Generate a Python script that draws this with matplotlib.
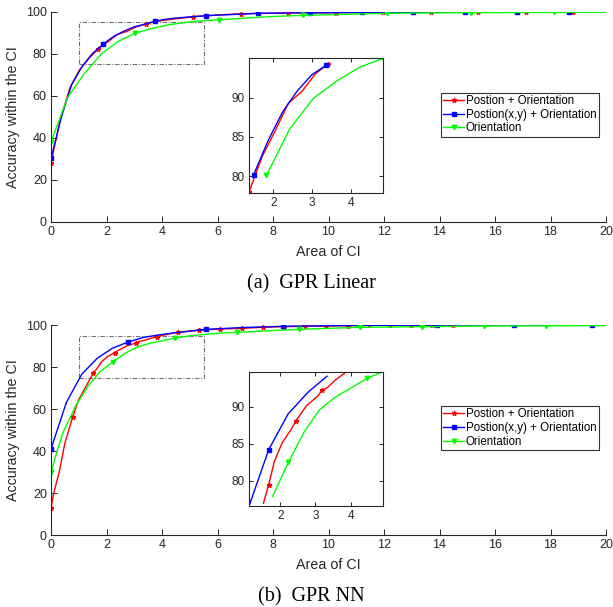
import matplotlib
matplotlib.use('Agg')
import matplotlib.pyplot as plt
from matplotlib.patches import Rectangle

plt.rcParams['font.family'] = ['Liberation Sans', 'DejaVu Sans']

# ---- GPR Linear (a) ----
lin_red_x = [0, 0.342, 0.684, 1.03, 1.37, 1.71, 2.05, 2.39, 2.74, 3.08, 3.42, 3.76, 4.10, 4.45,
             4.79, 5.13, 5.47, 5.81, 6.16, 6.50, 6.84, 8.55, 10.26, 11.97, 13.68, 15.39, 17.10, 18.81, 20.0]
lin_red_y = [28.2, 49, 64, 72.5, 78, 82.5, 85.8, 89.3, 90.8, 93.0, 94.3, 95.4, 96.1, 96.7,
             97.2, 97.8, 98.1, 98.4, 98.7, 98.9, 99.2, 99.5, 99.7, 99.8, 99.9, 100, 100, 100, 100]
lin_red_mk = [0, 5, 10, 15, 20, 21, 22, 23, 24, 25, 26, 27]
lin_red_mk_in = [4, 10]

lin_blue_x = [0, 0.373, 0.746, 1.12, 1.49, 1.87, 2.24, 2.61, 2.99, 3.36, 3.73, 4.10, 4.48, 4.85,
              5.22, 5.60, 5.97, 6.34, 6.72, 7.09, 7.46, 9.33, 11.20, 13.06, 14.93, 16.80, 18.66, 20.0]
lin_blue_y = [30.3, 50, 65.5, 74, 80.2, 84.6, 88.2, 90.8, 92.9, 94.1, 95.6, 96.5, 97.1, 97.5,
              97.9, 98.2, 98.5, 98.7, 98.9, 99.1, 99.4, 99.6, 99.8, 99.9, 100, 100, 100, 100]
lin_blue_mk = [0, 5, 10, 15, 20, 21, 22, 23, 24, 25, 26]
lin_blue_mk_in = [4, 9]

lin_green_x = [0, 0.605, 1.21, 1.82, 2.42, 3.03, 3.63, 4.24, 4.84, 5.45, 6.05, 6.66, 7.26, 7.87,
               8.47, 9.08, 12.10, 15.12, 18.14, 20.0]
lin_green_y = [38.1, 59.5, 70.8, 80.1, 86.0, 89.9, 92.1, 93.9, 95.0, 95.8, 96.3, 96.8, 97.3, 97.8,
               98.1, 98.4, 99.4, 99.7, 99.8, 99.9]
lin_green_mk = [0, 5, 10, 15, 16, 17, 18]
lin_green_mk_in = [3, 8]

# ---- GPR NN (b) ----
nn_red_x = [0, 0.1, 0.3, 0.5, 0.78, 1.0, 1.25, 1.52, 1.67, 1.83, 2.05, 2.29, 2.45, 2.74, 3.06,
            3.19, 3.35, 3.57, 3.83, 4.2, 4.59, 5.34, 6.10, 6.87, 7.63, 8.40, 9.17, 9.92, 10.69,
            11.45, 12.22, 12.97, 13.74, 14.50]
nn_red_y = [13, 20, 30.2, 43.7, 56.2, 64.5, 70.5, 77, 79.5, 82.6, 85.1, 86.8, 88.1, 90.1, 91.4,
            92.2, 92.6, 93.6, 94.5, 95.6, 96.5, 97.5, 98.1, 98.4, 98.9, 99.2, 99.4, 99.5, 99.7,
            99.8, 99.9, 99.9, 100, 100]
nn_red_mk = [0, 4, 7, 11, 14, 18, 20, 21, 22, 23, 24, 25, 26, 27, 28, 29, 30, 31, 32, 33]
nn_red_mk_in = [8, 12, 15]

nn_blue_x = [0, 0.556, 1.11, 1.67, 2.22, 2.78, 3.33, 3.89, 4.45, 5.0, 5.57, 6.9, 8.35, 11.14,
             13.92, 16.70, 19.48, 20.0]
nn_blue_y = [41, 63.2, 76.6, 84.2, 89.0, 91.9, 94.1, 95.3, 96.3, 97.1, 97.9, 98.8, 99.4, 99.8,
             100, 100, 100, 100]
nn_blue_mk = [0, 5, 10, 12, 13, 14, 15, 16]
nn_blue_mk_in = [3]

nn_green_x = [0, 0.223, 0.446, 0.89, 1.34, 1.78, 2.23, 2.68, 3.12, 3.57, 4.01, 4.46, 4.92, 5.35,
              5.80, 6.24, 6.69, 8.92, 11.15, 13.38, 15.61, 17.84, 20.0]
nn_green_y = [29.8, 40.1, 49.2, 61.5, 71, 77.9, 82.5, 86.6, 89.6, 91.3, 92.5, 93.8, 94.7, 95.3,
              95.8, 96.2, 96.5, 97.95, 98.9, 99.2, 99.5, 99.6, 99.7]
nn_green_mk = [0, 6, 11, 16, 17, 18, 19, 20, 21]
nn_green_mk_in = [6, 11]

labels = ['Postion + Orientation', 'Postion(x,y) + Orientation', 'Orientation']
colors = ['#ff0000', '#0000ff', '#00ff00']
markers = ['*', 's', 'v']
msizes = [3.5, 2.8, 3.2]
xticks = list(range(0, 21, 2))
yticks = list(range(0, 101, 20))
inset_yticks = [80, 85, 90]
inset_xticks = [2, 3, 4]
captions = ['(a)  GPR Linear', '(b)  GPR NN']
zoom_box = (1, 5.5, 75, 95)   # x0, x1, y0, y1 of the zoomed region

panels = [
    dict(series=[(lin_red_x, lin_red_y, lin_red_mk, lin_red_mk_in),
                 (lin_blue_x, lin_blue_y, lin_blue_mk, lin_blue_mk_in),
                 (lin_green_x, lin_green_y, lin_green_mk, lin_green_mk_in)],
         inset_xlim=(1.37, 4.84), inset_ylim=(77.9, 95.0),
         ax_top=12, inset_top=58.3, leg_top=92.7),
    dict(series=[(nn_red_x, nn_red_y, nn_red_mk, nn_red_mk_in),
                 (nn_blue_x, nn_blue_y, nn_blue_mk, nn_blue_mk_in),
                 (nn_green_x, nn_green_y, nn_green_mk, nn_green_mk_in)],
         inset_xlim=(1.11, 4.93), inset_ylim=(76.6, 94.7),
         ax_top=325, inset_top=371.7, leg_top=406),
]

W, H = 613, 607
fig = plt.figure(figsize=(W / 100, H / 100), dpi=100)
axcol = '#262626'
x0, x1, y0, y1 = zoom_box

for p, cap in zip(panels, captions):
    ax = fig.add_axes([51 / W, 1 - (p['ax_top'] + 210) / H, 555 / W, 210 / H])
    handles = []
    for (x, y, mk, _), c, m, ms in zip(p['series'], colors, markers, msizes):
        h, = ax.plot(x, y, color=c, lw=1.0, marker=m, ms=ms, markevery=mk)
        handles.append(h)
    ax.add_patch(Rectangle((x0, y0), x1 - x0, y1 - y0, fill=False, ls=(0, (4, 1.5, 1, 1.5)),
                           ec='#707070', lw=0.8))
    ax.set_xlim(0, 20)
    ax.set_ylim(0, 100)
    ax.set_xticks(xticks)
    ax.set_yticks(yticks)
    ax.tick_params(direction='in', length=4, width=0.7, color=axcol, labelcolor=axcol,
                   labelsize=9, pad=3)
    for s in ['top', 'right']:
        ax.spines[s].set_visible(False)
    for s in ['left', 'bottom']:
        ax.spines[s].set_color(axcol)
        ax.spines[s].set_linewidth(0.8)
    ax.set_xlabel('Area of CI', fontsize=10.3, color=axcol)
    ax.set_ylabel('Accuracy within the CI', fontsize=10.3, color=axcol)
    ax.xaxis.set_label_coords(0.5, -29.7 / 210)
    ax.yaxis.set_label_coords(-38 / 555, 0.5)
    ax.xaxis.label.set_va('center')
    ax.yaxis.label.set_va('center')

    # zoomed inset: only the points that fall inside the dashed box
    ins = fig.add_axes([249 / W, 1 - (p['inset_top'] + 134.5) / H, 134.3 / W, 134.5 / H])
    for (x, y, _, mk_in), c, m, ms in zip(p['series'], colors, markers, msizes):
        sel = [i for i in range(len(x)) if x0 <= x[i] <= x1 and y0 <= y[i] <= y1]
        xs = [x[i] for i in sel]
        ys = [y[i] for i in sel]
        mk = [sel.index(i) for i in mk_in if i in sel]
        ins.plot(xs, ys, color=c, lw=1.0, marker=m, ms=ms, markevery=mk)
    ins.set_xlim(*p['inset_xlim'])
    ins.set_ylim(*p['inset_ylim'])
    ins.set_xticks(inset_xticks)
    ins.set_yticks(inset_yticks)
    ins.tick_params(direction='in', length=3, width=0.7, color=axcol, labelcolor=axcol,
                    labelsize=8.5, top=True, right=True, pad=3)
    for s in ins.spines.values():
        s.set_color(axcol)
        s.set_linewidth(0.8)

    leg = fig.legend(handles, labels, loc='upper left',
                     bbox_to_anchor=(441 / W, 1 - p['leg_top'] / H),
                     bbox_transform=fig.transFigure, borderaxespad=0, fontsize=8.3,
                     frameon=True, fancybox=False, handlelength=1.8, handletextpad=0.15,
                     labelspacing=0.15, borderpad=0.2, markerscale=1.0)
    leg.get_frame().set_edgecolor('#000000')
    leg.get_frame().set_linewidth(0.8)

    # sub-caption under the panel
    fig.text(311 / W, 1 - (p['ax_top'] + 276) / H, cap, ha='center', va='baseline',
             fontsize=14.5, family='Liberation Serif', color='#000000')

fig.savefig('out.png', dpi=100)
